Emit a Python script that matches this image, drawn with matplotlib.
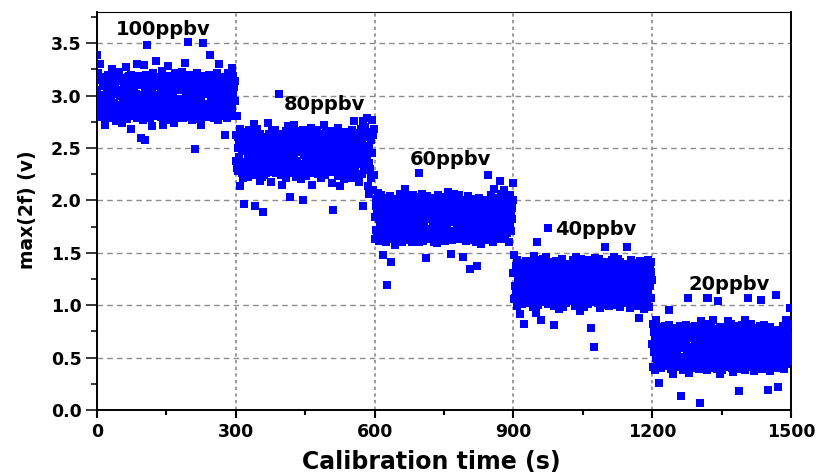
import numpy as np
import matplotlib
matplotlib.use('Agg')
import matplotlib.pyplot as plt
from matplotlib.ticker import MultipleLocator

# ---------------- data (values in units of 0.01 V, one sample per second) ----------------
seg_starts = [0, 300, 600, 900, 1200]
conc_labels = ['100ppbv', '80ppbv', '60ppbv', '40ppbv', '20ppbv']
label_x = [144, 492, 764, 1078, 1366]
label_y = [3.575, 2.86, 2.336, 1.668, 1.144]

seg_100 = [
    339, 305, 281, 322, 296, 286, 315, 290, 330, 280, 301, 287, 318, 288, 309, 314, 284, 299, 272, 313, 294, 316, 279, 306, 291, 320, 283, 303, 288, 317,
    297, 285, 325, 285, 311, 279, 320, 293, 282, 308, 289, 319, 276, 302, 322, 284, 314, 291, 283, 323, 300, 280, 315, 287, 305, 274, 317, 295, 282, 310,
    312, 286, 282, 305, 327, 293, 278, 318, 300, 283, 319, 286, 309, 289, 320, 268, 297, 314, 281, 314, 292, 307, 287, 316, 285, 302, 330, 279, 311, 294,
    283, 319, 296, 284, 310, 287, 260, 313, 301, 277, 314, 290, 329, 281, 258, 306, 284, 320, 348, 295, 285, 311, 288, 314, 279, 303, 317, 286, 298, 271,
    307, 281, 322, 294, 287, 312, 289, 333, 282, 301, 318, 284, 297, 315, 288, 309, 291, 315, 280, 305, 324, 287, 299, 272, 313, 295, 318, 278, 302, 286,
    316, 290, 285, 308, 328, 282, 300, 283, 319, 293, 311, 277, 304, 313, 288, 298, 316, 274, 309, 285, 322, 296, 279, 313, 292, 315, 282, 305, 287, 318,
    284, 310, 297, 286, 323, 289, 306, 279, 314, 296, 331, 284, 302, 287, 318, 280, 351, 293, 308, 287, 320, 290, 312, 283, 299, 314, 277, 304, 291, 315,
    297, 281, 249, 316, 288, 307, 286, 322, 293, 310, 278, 301, 317, 286, 314, 295, 272, 308, 283, 319, 350, 291, 304, 288, 315, 289, 311, 280, 302, 317,
    287, 306, 292, 320, 339, 284, 311, 297, 285, 315, 302, 288, 314, 279, 308, 294, 318, 283, 303, 285, 322, 296, 277, 312, 289, 330, 281, 305, 293, 316,
    300, 284, 318, 291, 286, 309, 296, 315, 262, 312, 288, 305, 279, 322, 294, 310, 283, 317, 299, 287, 313, 290, 326, 286, 303, 319, 281, 308, 295, 314,
]

seg_80 = [
    262, 238, 281, 231, 250, 261, 228, 255, 241, 214, 268, 234, 259, 226, 247, 263, 221, 252, 197, 265, 237, 258, 228, 249, 231, 261, 243, 222, 267, 235,
    252, 229, 259, 244, 229, 258, 236, 264, 224, 249, 273, 239, 195, 256, 231, 268, 225, 246, 262, 227, 253, 240, 263, 219, 260, 233, 248, 222, 189, 241,
    257, 235, 224, 257, 243, 226, 261, 238, 252, 227, 274, 246, 231, 263, 232, 255, 241, 218, 266, 229, 250, 260, 237, 258, 227, 244, 267, 226, 253, 239,
    230, 261, 245, 231, 302, 254, 236, 258, 224, 248, 263, 215, 241, 257, 229, 263, 238, 252, 221, 266, 233, 259, 244, 229, 271, 247, 226, 262, 203, 250,
    241, 268, 226, 255, 237, 230, 272, 244, 260, 231, 249, 222, 266, 238, 253, 227, 262, 235, 258, 227, 246, 259, 220, 251, 234, 267, 200, 243, 257, 228,
    265, 240, 223, 257, 232, 259, 246, 230, 262, 237, 254, 226, 269, 243, 215, 258, 235, 250, 262, 229, 261, 242, 231, 256, 233, 267, 247, 225, 260, 238,
    232, 258, 244, 258, 221, 253, 237, 263, 228, 248, 272, 230, 257, 241, 224, 266, 236, 252, 231, 261, 245, 233, 263, 227, 250, 264, 238, 217, 255, 242,
    191, 251, 266, 229, 245, 260, 236, 230, 260, 243, 256, 223, 269, 239, 250, 214, 263, 234, 247, 262, 228, 255, 241, 220, 265, 237, 258, 226, 248, 258,
    246, 226, 263, 239, 255, 229, 259, 244, 232, 259, 221, 267, 240, 252, 229, 276, 236, 249, 227, 262, 243, 256, 224, 258, 235, 250, 218, 264, 241, 257,
    238, 268, 225, 254, 195, 247, 276, 232, 261, 231, 270, 244, 229, 279, 240, 214, 265, 236, 252, 206, 261, 230, 258, 221, 277, 245, 210, 262, 224, 268,
]

seg_60 = [
    184, 163, 201, 172, 195, 170, 188, 207, 170, 182, 161, 198, 176, 205, 166, 190, 174, 197, 181, 148, 193, 168, 186, 202, 160, 179, 196, 119, 184, 171,
    197, 175, 171, 204, 186, 168, 141, 192, 178, 196, 163, 185, 199, 171, 157, 194, 182, 198, 167, 188, 174, 201, 162, 190, 179, 206, 169, 183, 198, 160,
    173, 200, 185, 162, 194, 177, 211, 165, 189, 180, 203, 170, 196, 171, 186, 195, 164, 181, 198, 175, 160, 192, 183, 169, 205, 176, 188, 163, 199, 181,
    165, 192, 179, 203, 171, 186, 160, 226, 182, 197, 168, 189, 174, 206, 161, 195, 178, 200, 166, 184, 145, 191, 173, 204, 163, 187, 199, 170, 182, 170,
    189, 170, 198, 163, 185, 195, 175, 192, 160, 181, 202, 168, 194, 177, 188, 159, 205, 172, 196, 183, 166, 191, 178, 197, 164, 186, 174, 200, 161, 193,
    176, 203, 161, 190, 182, 167, 199, 173, 208, 164, 187, 195, 170, 183, 149, 201, 179, 162, 193, 186, 171, 206, 167, 189, 180, 170, 197, 175, 192, 184,
    199, 168, 187, 205, 163, 181, 194, 170, 198, 177, 146, 189, 174, 200, 165, 186, 197, 161, 183, 192, 172, 204, 169, 180, 195, 162, 188, 135, 178, 201,
    171, 196, 182, 163, 190, 176, 195, 168, 185, 199, 160, 187, 137, 194, 179, 166, 202, 173, 189, 158, 196, 181, 170, 196, 175, 192, 164, 186, 200, 169,
    187, 173, 200, 166, 224, 184, 171, 196, 162, 189, 178, 205, 168, 193, 181, 160, 198, 175, 187, 211, 170, 194, 183, 165, 202, 177, 190, 163, 197, 182,
    219, 178, 194, 170, 206, 183, 163, 199, 188, 172, 210, 180, 166, 195, 185, 174, 203, 169, 191, 181, 160, 198, 177, 205, 187, 171, 193, 182, 217, 200,
]

seg_40 = [
    131, 106, 148, 118, 107, 137, 112, 143, 99, 126, 140, 104, 121, 135, 92, 129, 114, 134, 101, 124, 138, 108, 82, 133, 117, 109, 142, 110, 127, 103,
    125, 141, 102, 119, 136, 108, 130, 113, 133, 107, 122, 139, 98, 128, 115, 147, 105, 133, 120, 93, 160, 111, 137, 124, 100, 143, 116, 131, 107, 127,
    86, 134, 117, 144, 103, 126, 139, 109, 121, 112, 146, 108, 130, 123, 174, 101, 136, 115, 141, 107, 128, 119, 133, 104, 132, 110, 138, 99, 81, 125,
    118, 142, 100, 129, 113, 135, 106, 135, 122, 96, 140, 116, 131, 103, 144, 111, 126, 137, 98, 123, 133, 108, 133, 119, 102, 139, 114, 128, 106, 136,
    109, 131, 133, 117, 109, 138, 124, 104, 143, 112, 127, 135, 99, 120, 146, 106, 132, 115, 141, 101, 125, 137, 111, 129, 94, 144, 118, 107, 134, 121,
    140, 114, 126, 98, 137, 121, 105, 134, 117, 132, 101, 128, 143, 110, 124, 139, 108, 78, 130, 115, 142, 107, 121, 135, 60, 127, 112, 145, 103, 133,
    116, 138, 102, 129, 144, 110, 124, 97, 135, 119, 135, 106, 131, 113, 140, 100, 127, 156, 115, 136, 104, 141, 122, 109, 134, 118, 133, 99, 128, 112,
    130, 107, 143, 118, 108, 134, 123, 146, 105, 128, 139, 114, 100, 132, 121, 144, 109, 137, 117, 126, 98, 141, 113, 129, 135, 104, 136, 119, 102, 125,
    122, 139, 108, 131, 116, 133, 156, 127, 103, 138, 112, 134, 97, 125, 143, 110, 130, 119, 134, 106, 135, 121, 101, 140, 114, 128, 99, 137, 118, 132,
    108, 129, 88, 142, 117, 134, 100, 126, 133, 111, 137, 122, 96, 131, 115, 135, 105, 138, 120, 103, 143, 113, 127, 98, 136, 118, 141, 107, 132, 124,
]

seg_20 = [
    63, 41, 82, 55, 74, 38, 68, 50, 86, 45, 61, 77, 48, 70, 53, 26, 79, 48, 65, 40, 72, 57, 44, 72, 47, 66, 51, 80, 42, 69,
    58, 76, 43, 64, 49, 81, 95, 49, 71, 56, 39, 71, 62, 46, 75, 34, 67, 52, 73, 41, 59, 73, 44, 78, 54, 45, 70, 47, 63, 80,
    51, 68, 13, 74, 45, 59, 72, 38, 66, 50, 77, 42, 63, 81, 48, 56, 107, 71, 47, 60, 35, 79, 53, 69, 40, 74, 58, 44, 73, 49,
    76, 43, 62, 80, 49, 55, 70, 46, 71, 52, 39, 67, 58, 7, 74, 48, 85, 41, 64, 54, 78, 45, 60, 72, 45, 82, 50, 66, 38, 107,
    107, 57, 73, 40, 64, 49, 81, 48, 69, 53, 77, 86, 44, 61, 47, 75, 52, 72, 47, 66, 39, 71, 104, 55, 42, 79, 58, 34, 68, 50,
    65, 38, 79, 54, 46, 72, 47, 71, 59, 48, 70, 41, 63, 85, 51, 49, 76, 57, 44, 68, 82, 40, 61, 53, 74, 36, 67, 49, 80, 56,
    43, 71, 56, 72, 39, 62, 50, 18, 77, 45, 68, 54, 47, 81, 60, 47, 73, 40, 66, 52, 86, 38, 63, 75, 44, 58, 79, 107, 48, 70,
    59, 48, 74, 48, 82, 55, 41, 67, 50, 78, 37, 64, 53, 73, 45, 71, 39, 60, 76, 43, 69, 57, 46, 80, 49, 105, 62, 46, 72, 54,
    81, 47, 63, 39, 70, 56, 73, 42, 58, 74, 19, 66, 51, 79, 37, 61, 48, 71, 54, 44, 72, 47, 67, 59, 76, 46, 64, 40, 110, 52,
    66, 49, 22, 75, 58, 41, 72, 53, 70, 49, 62, 80, 46, 57, 73, 39, 68, 51, 86, 44, 60, 77, 47, 65, 54, 82, 48, 71, 97, 58,
]

segments = [seg_100, seg_80, seg_60, seg_40, seg_20]

# ---------------- figure ----------------
plt.rcParams['font.family'] = ['DejaVu Sans']
plt.rcParams['font.weight'] = 'bold'
plt.rcParams['axes.labelweight'] = 'bold'

fig = plt.figure(figsize=(8.2, 4.75), dpi=100)
ax = fig.add_axes([0.118, 0.137, 0.847, 0.838])

# slightly wide square marker (the reference is horizontally stretched)
marker_verts = [(-1.15, -1), (1.15, -1), (1.15, 1), (-1.15, 1), (-1.15, -1)]
blue = '#0000ff'
for start, vals in zip(seg_starts, segments):
    t = start + np.arange(len(vals))
    v = np.asarray(vals, dtype=float) / 100.0
    ax.plot(t, v, linestyle='none', marker=marker_verts, ms=6.3,
            color=blue, mec=blue, mew=0, zorder=3)

for txt, lx, ly in zip(conc_labels, label_x, label_y):
    ax.text(lx, ly, txt, ha='center', va='baseline', fontsize=14,
            fontweight='bold', color='black', zorder=4)

ax.set_xlim(0, 1500)
ax.set_ylim(0, 3.8)
ax.xaxis.set_major_locator(MultipleLocator(300))
ax.xaxis.set_minor_locator(MultipleLocator(150))
ax.yaxis.set_major_locator(MultipleLocator(0.5))
ax.yaxis.set_minor_locator(MultipleLocator(0.25))
ax.yaxis.set_major_formatter(plt.FormatStrFormatter('%.1f'))

ax.set_axisbelow(True)
ax.yaxis.grid(True, which='major', linestyle=(0, (4, 3)), color='#8c8c8c', linewidth=1.0)
ax.xaxis.grid(True, which='major', linestyle=(0, (2, 2)), color='#8c8c8c', linewidth=1.2)

ax.tick_params(axis='x', which='major', direction='out', length=5.8, width=1.5,
               labelsize=12.5, pad=3.5, top=False)
ax.tick_params(axis='x', which='minor', direction='out', length=3.6, width=1.5, top=False)
ax.tick_params(axis='y', which='major', direction='out', length=8, width=1.1,
               labelsize=12.5, pad=3, right=False)
ax.tick_params(axis='y', which='minor', direction='out', length=4.3, width=1.1, right=False)

for side in ['left', 'bottom', 'right']:
    ax.spines[side].set_linewidth(1.4)
    ax.spines[side].set_color('black')
ax.spines['top'].set_linewidth(0.8)
ax.spines['top'].set_color('black')

ax.set_xlabel('Calibration time (s)', fontsize=17, fontweight='bold')
ax.xaxis.set_label_coords(0.481, -0.1)
ax.set_ylabel('max(2f) (v)', fontsize=13.5, fontweight='bold')
ax.yaxis.set_label_coords(-0.086, 0.503)

fig.savefig('out.png', dpi=100)
